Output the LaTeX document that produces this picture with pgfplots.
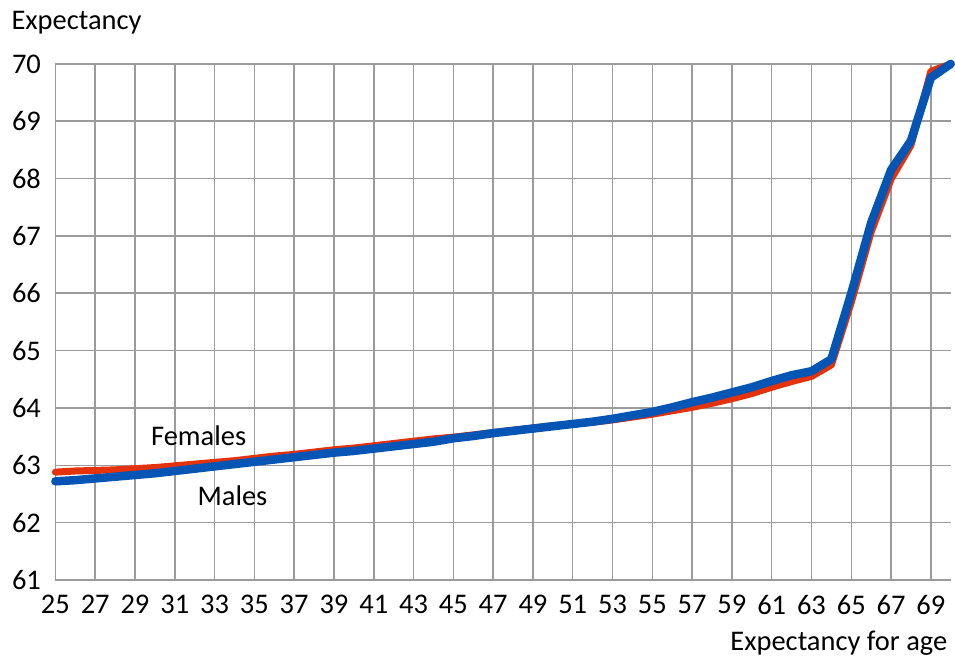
\documentclass[border=0pt]{standalone}
\usepackage{pgfplots}
\pgfplotsset{compat=1.18}
\usepackage{fontspec}
\setmainfont{Carlito}

\definecolor{femred}{RGB}{228,50,10}
\definecolor{maleblue}{RGB}{5,85,180}
\definecolor{gridgray}{RGB}{155,155,155}

\newcommand{\chartfont}{\fontsize{28.5}{34}\selectfont}

\begin{document}
\begin{tikzpicture}
\begin{axis}[
    scale only axis,
    width=897pt, height=517pt,
    xmin=25, xmax=70,
    ymin=61, ymax=70,
    xtick={25,27,...,69},
    ytick={61,62,...,70},
    grid=major,
    grid style={gridgray, line width=1.5pt},
    major tick length=0pt,
    axis line style={draw=none},
    tick label style={font=\chartfont},
    /pgf/number format/assume math mode=true,
    xticklabel style={yshift=-12pt},
    yticklabel style={xshift=-11pt},
    clip=false,
]

\addplot[color=femred, line width=7pt, line join=round, line cap=round]
    coordinates {
    (25,62.88) (26,62.90) (27,62.91) (28,62.92) (29,62.94) (30,62.96)
    (31,62.99) (32,63.02) (33,63.05) (34,63.08) (35,63.12) (36,63.16)
    (37,63.19) (38,63.23) (39,63.27) (40,63.30) (41,63.34) (42,63.38)
    (43,63.42) (44,63.46) (45,63.49) (46,63.53) (47,63.57) (48,63.61)
    (49,63.65) (50,63.69) (51,63.72) (52,63.75) (53,63.79) (54,63.84)
    (55,63.89) (56,63.95) (57,64.01) (58,64.08) (59,64.16) (60,64.25)
    (61,64.36) (62,64.46) (63,64.55) (64,64.75) (65,65.84) (66,67.07)
    (67,67.99) (68,68.58) (69,69.87) (70,70.00)
    };

\addplot[color=maleblue, line width=8.5pt, line join=round, line cap=round]
    coordinates {
    (25,62.72) (26,62.74) (27,62.77) (28,62.80) (29,62.83) (30,62.86)
    (31,62.90) (32,62.94) (33,62.98) (34,63.02) (35,63.06) (36,63.10)
    (37,63.14) (38,63.18) (39,63.22) (40,63.25) (41,63.29) (42,63.33)
    (43,63.37) (44,63.41) (45,63.47) (46,63.51) (47,63.56) (48,63.60)
    (49,63.64) (50,63.68) (51,63.72) (52,63.76) (53,63.81) (54,63.87)
    (55,63.93) (56,64.01) (57,64.10) (58,64.18) (59,64.27) (60,64.36)
    (61,64.47) (62,64.57) (63,64.64) (64,64.85) (65,66.00) (66,67.23)
    (67,68.15) (68,68.66) (69,69.76) (70,70.00)
    };

\node[font=\chartfont] at (axis cs:32.2,63.52) {Females};
\node[font=\chartfont] at (axis cs:33.9,62.46) {Males};

\node[font=\chartfont, anchor=base west, xshift=-47.5pt, yshift=34pt]
    at (rel axis cs:0,1) {Expectancy};
\node[font=\chartfont, anchor=base east, yshift=-71pt]
    at (rel axis cs:1,0) {Expectancy for age};

% room round the plot, as in the reference
\path (rel axis cs:0,0) ++(-55.5pt,-81pt) coordinate (bbsw);
\path (rel axis cs:1,1) ++(3pt,64pt) coordinate (bbne);
\path (bbsw) rectangle (bbne);
\end{axis}
\end{tikzpicture}
\end{document}
